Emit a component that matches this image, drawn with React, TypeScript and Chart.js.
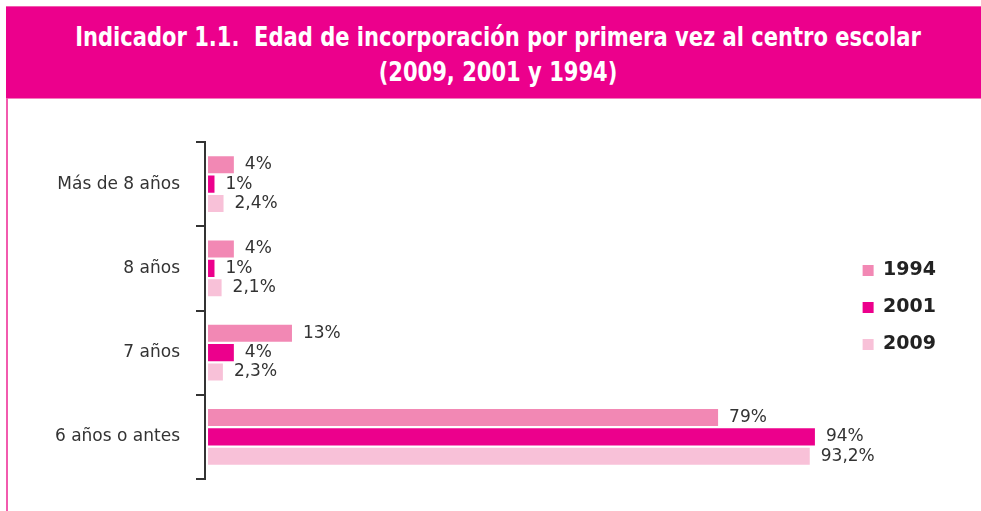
import React, { useEffect, useRef } from "react";
import { Chart, registerables } from "chart.js";

Chart.register(...registerables);

const categories = ["Más de 8 años", "8 años", "7 años", "6 años o antes"];
const seriesNames = ["1994", "2001", "2009"];
const values1994 = [4, 4, 13, 79];
const values2001 = [1, 1, 4, 94];
const values2009 = [2.4, 2.1, 2.3, 93.2];
const colors = ["#F288B4", "#EC008C", "#F8C1D8"];

const titleLines = [
  "Indicador 1.1.\u00a0\u00a0Edad de incorporación por primera vez al centro escolar",
  "(2009, 2001 y 1994)",
];

const fmt = (v: number) => String(v).replace(".", ",") + "%";

const valueLabels = {
  id: "valueLabels",
  afterDatasetsDraw(chart: any) {
    const ctx = chart.ctx;
    ctx.save();
    ctx.font = '17px "DejaVu Sans"';
    ctx.fillStyle = "#333333";
    ctx.textAlign = "left";
    ctx.textBaseline = "middle";
    chart.data.datasets.forEach((ds: any, di: number) => {
      const meta = chart.getDatasetMeta(di);
      meta.data.forEach((bar: any, i: number) => {
        ctx.fillText(fmt(ds.data[i]), bar.x + 11, bar.y);
      });
    });
    ctx.restore();
  },
};

export default function App() {
  const ref = useRef<HTMLCanvasElement>(null);
  useEffect(() => {
    if (!ref.current) return;
    const allSeries = [values1994, values2001, values2009];
    const chart = new Chart(ref.current, {
      type: "bar",
      data: {
        labels: categories,
        datasets: allSeries.map((d, i) => ({
          label: seriesNames[i],
          data: d,
          backgroundColor: colors[i],
          borderWidth: 0,
          categoryPercentage: 0.69,
          barPercentage: 0.88,
        })),
      },
      options: {
        indexAxis: "y",
        animation: false,
        responsive: false,
        maintainAspectRatio: false,
        layout: { padding: { left: 10, right: 35, top: 136, bottom: 32 } },
        plugins: {
          tooltip: { enabled: false },
          legend: {
            position: "right",
            align: "center",
            labels: {
              boxWidth: 11,
              boxHeight: 11,
              padding: 18,
              color: "#222222",
              font: { family: "DejaVu Sans", size: 19, weight: "bold" },
            },
          },
        },
        scales: {
          x: {
            position: "top",
            min: -0.47,
            max: 98.6,
            ticks: { display: false },
            grid: { display: false },
            border: { display: false },
            afterFit(scale: any) {
              scale.height = 6;
            },
          },
          y: {
            offset: true,
            ticks: {
              padding: 16,
              color: "#333333",
              font: { family: "DejaVu Sans", size: 17 },
            },
            grid: {
              offset: true,
              drawOnChartArea: false,
              drawTicks: true,
              tickLength: 9,
              color: "#333333",
              lineWidth: 2,
            },
            border: { display: true, color: "#333333", width: 2 },
            afterFit(scale: any) {
              scale.width = 195;
            },
          },
        },
      },
      plugins: [valueLabels],
    });
    return () => chart.destroy();
  }, []);

  return (
    <div style={{ position: "absolute", left: 0, top: 0, width: 981, height: 511, overflow: "hidden", background: "#ffffff" }}>
      <div style={{ position: "absolute", left: 6, top: 6, width: 975, height: 92, background: "#EC008C", borderTop: "1px solid #F25AAE", boxSizing: "border-box" }} />
      <div style={{ position: "absolute", left: 6, top: 98, width: 975, height: 1, background: "#F47CBE" }} />
      <div style={{ position: "absolute", left: 6, top: 98, width: 2, height: 413, background: "#F25AAE" }} />
      <div
        style={{
          position: "absolute",
          left: 15,
          top: 20,
          width: 966,
          textAlign: "center",
          color: "#ffffff",
          fontFamily: '"Liberation Sans Narrow", "DejaVu Sans Condensed", "Roboto Condensed", sans-serif',
          fontWeight: "bold",
          fontSize: 26,
          lineHeight: "35px",
          transform: "scaleX(0.9)",
          transformOrigin: "center",
        }}
      >
        {titleLines.map((t, i) => (
          <div key={i}>{t}</div>
        ))}
      </div>
      <canvas ref={ref} width={981} height={511} style={{ position: "absolute", left: 0, top: 0, width: 981, height: 511 }} />
    </div>
  );
}
